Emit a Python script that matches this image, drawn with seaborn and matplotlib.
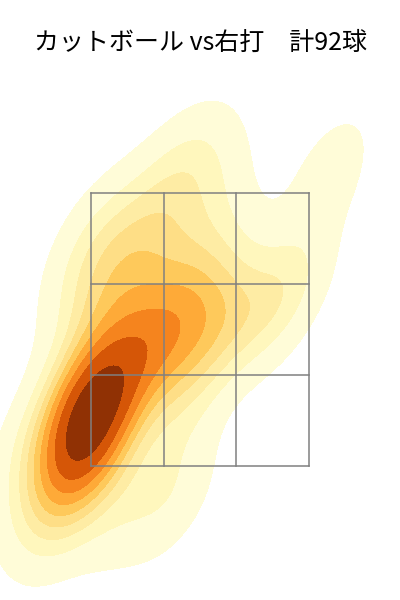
import numpy as np
import pandas as pd
import seaborn as sns
import matplotlib.pyplot as plt

# pitch locations (plate_x, plate_z in ft), 92 pitches
plate_x = [
    # main cluster, low and inside
    -0.92, -0.88, -0.85, -0.95, -0.80, -0.90, -0.84, -0.76, -0.88, -0.80,
    -0.72, -0.78, -0.86, -0.70, -0.74, -0.66, -0.80, -0.70, -0.76, -0.98,
    -0.82, -1.00, -0.94, -0.60, -0.64, -0.84, -0.74, -0.90, -0.70, -0.68,
    -0.96, -0.78, -0.82,
    # middle
    -0.55, -0.45, -0.50, -0.40, -0.30, -0.25, -0.20, -0.10, -0.05, 0.00,
    0.05, 0.05, -0.60, -0.45, -0.70, -0.80, -0.25, -0.45, -0.35, -0.15,
    0.10, -0.65, -0.35, -0.85, -0.05, -0.30, -0.20, -0.40,
    # high
    -0.50, -0.20, 0.05, -0.40, 0.05, -0.15, -0.75, -0.85, 0.10, -0.10,
    # low
    -1.20, -1.05, -1.15, -0.95, -0.60, -0.20, -1.30, -0.50,
    # away side
    0.35, 0.45, 0.55, 0.30, 0.20, 0.60, 0.72,
    0.93, 0.96,
    0.55,
    -0.15, -0.05, -0.25,
]
plate_z = [
    1.55, 1.62, 1.70, 1.72, 1.75, 1.80, 1.85, 1.82, 1.92, 1.95,
    1.90, 2.02, 2.05, 2.05, 2.12, 2.15, 2.18, 2.25, 2.32, 1.60,
    1.58, 1.85, 2.00, 2.10, 1.95, 1.48, 1.65, 1.40, 1.75, 1.58,
    2.15, 1.38, 1.72,
    2.55, 2.60, 2.75, 2.45, 2.70, 2.55, 2.85, 2.60, 2.45, 2.70,
    2.55, 2.35, 2.90, 2.95, 2.70, 2.60, 2.30, 2.20, 2.05, 2.15,
    2.80, 3.05, 3.10, 2.85, 3.00, 2.45, 2.40, 2.35,
    3.22, 3.30, 3.40, 3.50, 3.65, 3.68, 3.28, 3.05, 3.12, 3.76,
    1.20, 1.05, 1.40, 1.15, 1.10, 1.20, 1.65, 1.35,
    2.55, 2.70, 2.55, 2.85, 2.50, 2.80, 2.85,
    3.50, 3.75,
    1.32,
    1.70, 2.05, 1.28,
]

zone_x = [-0.8, -0.8 / 3, 0.8 / 3, 0.8]
zone_z = [1.5, 1.5 + 2 / 3, 1.5 + 4 / 3, 3.5]

df = pd.DataFrame({"plate_x": plate_x, "plate_z": plate_z})

fig = plt.figure(figsize=(4, 6), dpi=100)
ax = fig.add_axes([0, 0, 1, 1])

sns.kdeplot(data=df, x="plate_x", y="plate_z", fill=True, cmap="YlOrBr",
            levels=10, thresh=0.05, ax=ax)

# strike zone grid
for zx in zone_x:
    ax.plot([zx, zx], [zone_z[0], zone_z[-1]], color="gray", lw=1.1)
for zz in zone_z:
    ax.plot([zone_x[0], zone_x[-1]], [zz, zz], color="gray", lw=1.1)

ax.set_xlim(-1.468, 1.468)
ax.set_ylim(0.522, 4.914)
ax.axis("off")

fig.text(0.5, 0.928, "カットボール vs右打　計92球", ha="center", va="center",
         fontsize=18, family=["Noto Sans CJK JP", "DejaVu Sans"])

fig.savefig("out.png", dpi=100)
